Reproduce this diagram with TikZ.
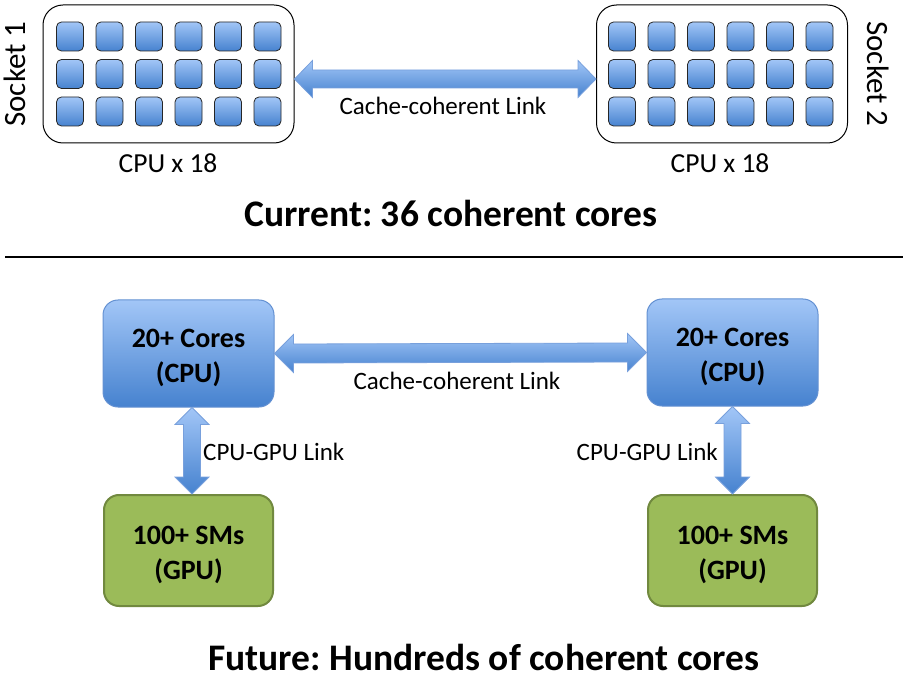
\documentclass[tikz,border=0pt]{standalone}
\usepackage{fontspec}
\setmainfont{Carlito}
\frenchspacing
\usetikzlibrary{calc}
\definecolor{bluetop}{RGB}{162,198,247}
\definecolor{bluebot}{RGB}{70,130,207}
\definecolor{blueedge}{RGB}{100,145,210}
\definecolor{arrowedge}{RGB}{120,160,220}
\definecolor{gpufill}{RGB}{155,187,89}
\definecolor{gpuedge}{RGB}{113,137,63}
\newcommand{\hdarrow}[5]{%
  \path[linkarrow] (#1) -- ($(#1)+(#3,-#4)$) -- ($(#1)+(#3,-#5)$) -- ($(#2)+(-#3,-#5)$) -- ($(#2)+(-#3,-#4)$) -- (#2)
   -- ($(#2)+(-#3,#4)$) -- ($(#2)+(-#3,#5)$) -- ($(#1)+(#3,#5)$) -- ($(#1)+(#3,#4)$) -- cycle;}
\newcommand{\vdarrow}[5]{%
  \path[linkarrow] (#1) -- ($(#1)+(-#4,#3)$) -- ($(#1)+(-#5,#3)$) -- ($(#2)+(-#5,-#3)$) -- ($(#2)+(-#4,-#3)$) -- (#2)
   -- ($(#2)+(#4,-#3)$) -- ($(#2)+(#5,-#3)$) -- ($(#1)+(#5,#3)$) -- ($(#1)+(#4,#3)$) -- cycle;}
\begin{document}
\begin{tikzpicture}[x=1pt,y=-1pt,
  socket/.style={draw=black, line width=1pt, fill=white, rounded corners=20pt, minimum width=251pt, minimum height=138pt},
  core/.style={draw=black!85, line width=0.8pt, top color=bluetop, bottom color=bluebot, rounded corners=5pt, minimum width=27pt, minimum height=29pt, inner sep=0pt},
  cpubox/.style={draw=blueedge, line width=1pt, top color=bluetop, bottom color=bluebot, rounded corners=15pt, minimum width=171pt, minimum height=107pt},
  gpubox/.style={draw=gpuedge, line width=2pt, fill=gpufill, rounded corners=15pt, minimum width=169pt, minimum height=111pt},
  boxtxt/.style={align=center, inner sep=0pt, font=\bfseries\fontsize{28}{35}\selectfont},
  linkarrow/.style={draw=arrowedge, line width=0.8pt, top color=bluetop, bottom color=bluebot},
  lbl/.style={font=\fontsize{25}{28}\selectfont, inner sep=0pt},
  cpulbl/.style={font=\fontsize{27.5}{30}\selectfont, inner sep=0pt},
  sock/.style={font=\fontsize{31}{34}\selectfont, inner sep=0pt},
  title/.style={font=\bfseries\fontsize{37.5}{40}\selectfont, inner sep=0pt}]
\useasboundingbox (0,0) rectangle (914,679);

% Top section
\node[socket] (s1) at (168.5,74) {};
\node[socket] (s2) at (722,74) {};
\foreach \r in {1,2,3} {
  \foreach \c in {1,...,6} {
    \node[core] (ca-\r-\c) at ({70+39.5*(\c-1)},{36.5+37.5*(\r-1)}) {};
    \node[core] (cb-\r-\c) at ({622+39.5*(\c-1)},{36.5+37.5*(\r-1)}) {};
  }
}
\node[sock, rotate=90] (sk1) at (15,74) {Socket 1};
\node[sock, rotate=-90] (sk2) at (878,74) {Socket 2};
\node[cpulbl] (n1) at (168,163) {CPU x 18};
\node[cpulbl] (n2) at (720,163) {CPU x 18};
\coordinate (ta) at ($(s1.east)+(0,5)$);
\coordinate (tb) at ($(s2.west)+(0,5)$);
\hdarrow{ta}{tb}{18}{18.5}{9}
\node[lbl] (ccl1) at (443,106) {Cache-coherent Link};
\node[title] (t1) at (451,213) {Current: 36 coherent cores};

% Separator
\coordinate (sepa) at (5,257);
\coordinate (sepb) at (903,257);
\draw[line width=2pt] (sepa) -- (sepb);

% Bottom section
\node[cpubox] (cpu1) at (188.5,353.5) {};
\node[cpubox] (cpu2) at (732.5,352.5) {};
\node[gpubox] (gpu1) at (188.5,550.5) {};
\node[gpubox] (gpu2) at (732.5,550.5) {};
\node[boxtxt] (cpu1t) at ($(cpu1.center)+(0,4)$) {20+ Cores\\(CPU)};
\node[boxtxt] (cpu2t) at ($(cpu2.center)+(0,4)$) {20+ Cores\\(CPU)};
\node[boxtxt] (gpu1t) at ($(gpu1.center)+(0,4)$) {100+ SMs\\(GPU)};
\node[boxtxt] (gpu2t) at ($(gpu2.center)+(0,4)$) {100+ SMs\\(GPU)};
\hdarrow{cpu1.east}{cpu2.west}{19}{19}{9.5}
\node[lbl] (ccl2) at (457,381) {Cache-coherent Link};
\coordinate (va1) at ($(cpu1.south)+(3.5,0)$);
\coordinate (vb1) at ($(gpu1.north)+(3.5,0)$);
\coordinate (va2) at (cpu2.south);
\coordinate (vb2) at (gpu2.north);
\vdarrow{va1}{vb1}{17}{17}{8.5}
\vdarrow{va2}{vb2}{17}{17}{8.5}
\node[lbl, anchor=west] (gl1) at (203,452) {CPU-GPU Link};
\node[lbl, anchor=east] (gl2) at (718,452) {CPU-GPU Link};
\node[title] (t2) at (484,657) {Future: Hundreds of coherent cores};
\end{tikzpicture}
\end{document}
